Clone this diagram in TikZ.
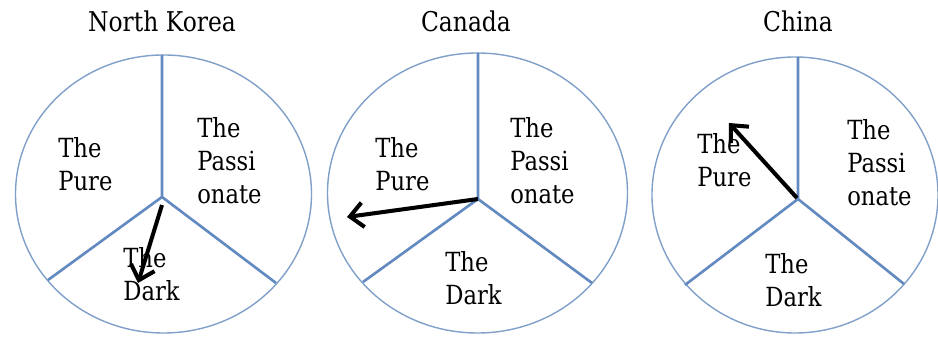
\documentclass[tikz,border=0pt]{standalone}
\usepackage{fontspec}
\setmainfont{DejaVu Serif}[FakeStretch=0.86]
\usetikzlibrary{arrows.meta}
\definecolor{rimblue}{RGB}{128,160,202}
\definecolor{spokeblue}{RGB}{98,138,192}
\begin{document}
\begin{tikzpicture}[x=0.02cm, y=-0.02cm,
    rim/.style={draw=rimblue, line width=0.8pt},
    spoke/.style={draw=spokeblue, line width=1.5pt},
    pointer/.style={line width=2.3pt, -{Straight Barb[length=7.5pt,width=14pt,line width=2.3pt]}},
    lbl/.style={anchor=north west, inner sep=0pt, align=left, font=\fontsize{15}{18.7}\selectfont},
    ttl/.style={anchor=base, inner sep=0pt, font=\fontsize{15.5}{17}\selectfont}]
    \useasboundingbox (0,0) rectangle (938,337);

    % North Korea
    \draw[rim] (163.5,194) ellipse [x radius=148, y radius=139];
    \coordinate (nkc) at (162,197);
    \coordinate (nktop) at (162,55);
    \coordinate (nkleft) at (48,280);
    \coordinate (nkright) at (276,283);
    \draw[spoke] (nktop) -- (nkc) -- (nkleft) (nkc) -- (nkright);
    \node[ttl] (nktitle) at (162,32) {North Korea};
    \node[lbl] (nkpure) at (58,137) {The\\Pure};
    \node[lbl] (nkpass) at (197,117) {The\\Passi\\onate};
    \node[lbl] (nkdark) at (123,247) {The\\Dark};
    \coordinate (nkfrom) at (162,205);
    \coordinate (nkto) at (138,283);
    \draw[pointer] (nkfrom) -- (nkto);

    % Canada
    \draw[rim] (477.5,193) ellipse [x radius=150, y radius=140];
    \coordinate (cac) at (478,199);
    \coordinate (catop) at (478,53);
    \coordinate (caleft) at (363,282);
    \coordinate (caright) at (592,283);
    \draw[spoke] (catop) -- (cac) -- (caleft) (cac) -- (caright);
    \node[ttl] (catitle) at (466,32) {Canada};
    \node[lbl] (capure) at (375,137) {The\\Pure};
    \node[lbl] (capass) at (510,117) {The\\Passi\\onate};
    \node[lbl] (cadark) at (445,251) {The\\Dark};
    \coordinate (cato) at (347,217);
    \draw[pointer] (cac) -- (cato);

    % China
    \draw[rim] (795,195) ellipse [x radius=143, y radius=138];
    \coordinate (chc) at (798,199);
    \coordinate (chtop) at (798,57);
    \coordinate (chleft) at (685,285);
    \coordinate (chright) at (904,284);
    \draw[spoke] (chtop) -- (chc) -- (chleft) (chc) -- (chright);
    \node[ttl] (chtitle) at (798,32) {China};
    \node[lbl] (chpure) at (697,133) {The\\Pure};
    \node[lbl] (chpass) at (847,119) {The\\Passi\\onate};
    \node[lbl] (chdark) at (765,253) {The\\Dark};
    \coordinate (chfrom) at (797,198);
    \coordinate (chto) at (729,123);
    \draw[pointer] (chfrom) -- (chto);
\end{tikzpicture}
\end{document}
